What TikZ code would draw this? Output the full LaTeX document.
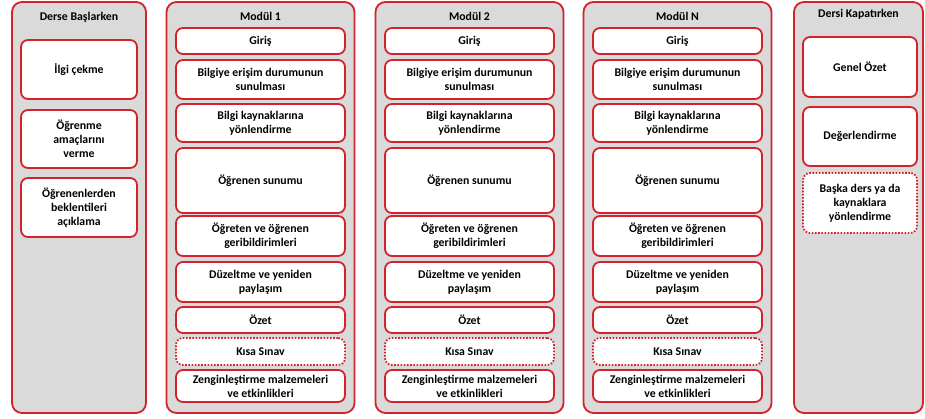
\documentclass[tikz,border=0pt]{standalone}
\usepackage{fontspec}
\setmainfont{Carlito}
\definecolor{kirmizi}{HTML}{D2232A}
\definecolor{gri}{HTML}{DADADA}
\tikzset{
    kolon/.style={draw=kirmizi, line width=1.8pt, fill=gri, rounded corners=10pt, inner sep=0pt},
    kutu/.style={draw=kirmizi, line width=1.8pt, fill=white, rounded corners=7pt, inner sep=0pt, align=center},
    nokta/.style={kutu, dash pattern=on 1.6pt off 1.6pt},
    baslik/.style={inner sep=0pt},
}
\begin{document}
\begin{tikzpicture}[x=1pt,y=-1pt,font=\fontsize{11.8}{14}\selectfont\bfseries]
        \useasboundingbox[fill=white] (0,0) rectangle (925,418);

        %Derse Baslarken
        \node[kolon, minimum width=134, minimum height=411] (bas) at (79,207.5) {};
        \node[baslik] (basT) at (79,17) {Derse Başlarken};
        \node[kutu, minimum width=116, minimum height=59] (ilgi) at (79,69.5) {İlgi çekme};
        \node[kutu, minimum width=116, minimum height=58] (amac) at (79,139) {Öğrenme\\amaçlarını\\verme};
        \node[kutu, minimum width=116, minimum height=59] (bekl) at (79,207.5) {Öğrenenlerden\\beklentileri\\açıklama};

        %Moduller
        \foreach \i/\cx/\lab in {1/260.5/Modül 1, 2/469.5/Modül 2, 3/677.5/Modül N} {
            \node[kolon, minimum width=188, minimum height=411] (mod\i) at (\cx,207.5) {};
            \node[baslik] (mod\i T) at (\cx,16) {\lab};
            \node[kutu, minimum width=169, minimum height=26] (giris\i) at (\cx,41) {Giriş};
            \node[kutu, minimum width=169, minimum height=39] (erisim\i) at (\cx,79.5) {Bilgiye erişim durumunun\\sunulması};
            \node[kutu, minimum width=169, minimum height=38] (kaynak\i) at (\cx,123) {Bilgi kaynaklarına\\yönlendirme};
            \node[kutu, minimum width=169, minimum height=65] (sunum\i) at (\cx,180.5) {Öğrenen sunumu};
            \node[kutu, minimum width=169, minimum height=40] (geri\i) at (\cx,236) {Öğreten ve öğrenen\\geribildirimleri};
            \node[kutu, minimum width=169, minimum height=40] (duz\i) at (\cx,282) {Düzeltme ve yeniden\\paylaşım};
            \node[kutu, minimum width=169, minimum height=26] (ozet\i) at (\cx,320) {Özet};
            \node[nokta, minimum width=169, minimum height=27] (sinav\i) at (\cx,351.5) {Kısa Sınav};
            \node[kutu, minimum width=169, minimum height=32] (zen\i) at (\cx,386) {Zenginleştirme malzemeleri\\ve etkinlikleri};
        }

        %Dersi Kapatirken
        \node[kolon, minimum width=129, minimum height=411] (kap) at (858.5,207.5) {};
        \node[baslik] (kapT) at (858.5,14) {Dersi Kapatırken};
        \node[kutu, minimum width=114, minimum height=60] (genel) at (860,67) {Genel Özet};
        \node[kutu, minimum width=114, minimum height=59] (deger) at (860,136.5) {Değerlendirme};
        \node[nokta, minimum width=114, minimum height=60] (baska) at (860,203) {Başka ders ya da\\kaynaklara\\yönlendirme};

    \end{tikzpicture}
\end{document}
